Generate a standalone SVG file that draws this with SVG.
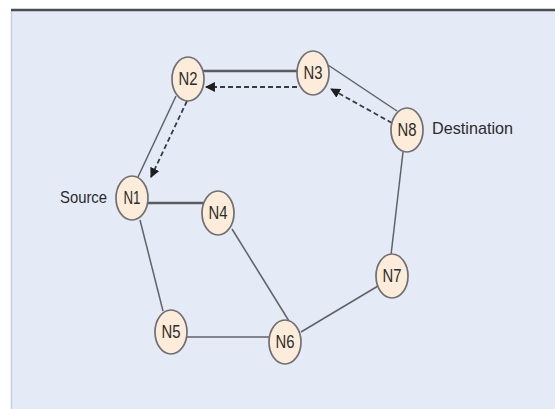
<svg xmlns="http://www.w3.org/2000/svg" width="555" height="409" viewBox="0 0 555 409">
  <defs>
    <style>
      .node ellipse { fill: #fcecd9; stroke: #707072; stroke-width: 1.7; }
      .node text, .label { font-family: "Liberation Sans", Arial, sans-serif; fill: #2c2c2c; }
      .node text { font-size: 18px; text-anchor: middle; dominant-baseline: central; }
      .label { font-size: 17px; dominant-baseline: central; }
      .link { stroke: #606266; stroke-width: 1.5; fill: none; }
      .link.heavy { stroke-width: 2.5; stroke: #5a5c60; }
      .route { stroke: #3a3c40; stroke-width: 1.8; stroke-dasharray: 5 3; fill: none; marker-end: url(#arrow); }
    </style>
    <marker id="arrow" viewBox="0 0 10 10" refX="9" refY="5" markerWidth="5.5" markerHeight="5.5" orient="auto">
      <path d="M0,0 L10,5 L0,10 Z" fill="#1e1e20"/>
    </marker>
  </defs>

  <!-- panel -->
  <rect x="0" y="0" width="555" height="409" fill="#ffffff"/>
  <rect x="11" y="11" width="544" height="398" fill="#e4eaf6"/>
  <line x1="11.5" y1="11" x2="11.5" y2="409" stroke="#c5cde0" stroke-width="1.5"/>
  <line x1="11" y1="10" x2="555" y2="10" stroke="#4a4d52" stroke-width="2.5"/>

  <!-- connectors -->
  <g id="connectors">
    <line class="link heavy" x1="203" y1="71" x2="298" y2="71"/>
    <line class="link" x1="328" y1="65" x2="397" y2="111"/>
    <line class="link" x1="176" y1="96" x2="138" y2="177"/>
    <line class="link heavy" x1="148" y1="203" x2="203" y2="203"/>
    <line class="link" x1="140" y1="220" x2="163" y2="311"/>
    <line class="link" x1="186" y1="337" x2="270" y2="337"/>
    <line class="link" x1="232" y1="229" x2="289" y2="321"/>
    <line class="link" x1="301" y1="332" x2="378" y2="286"/>
    <line class="link" x1="391" y1="255" x2="403" y2="152"/>
    <!-- route from destination back to source -->
    <line class="route" x1="392" y1="123" x2="331" y2="89"/>
    <line class="route" x1="297" y1="87" x2="206" y2="87"/>
    <line class="route" x1="187" y1="101" x2="151" y2="177"/>
  </g>

  <!-- nodes -->
  <g id="N1" class="node"><ellipse cx="132" cy="198" rx="16" ry="22"/><text x="132" y="198" textLength="17" lengthAdjust="spacingAndGlyphs">N1</text></g>
  <g id="N2" class="node"><ellipse cx="188" cy="79" rx="16" ry="22"/><text x="188" y="79" textLength="19" lengthAdjust="spacingAndGlyphs">N2</text></g>
  <g id="N3" class="node"><ellipse cx="313" cy="73" rx="16" ry="22"/><text x="313" y="73" textLength="19" lengthAdjust="spacingAndGlyphs">N3</text></g>
  <g id="N4" class="node"><ellipse cx="218" cy="213" rx="16" ry="22"/><text x="218" y="213" textLength="19" lengthAdjust="spacingAndGlyphs">N4</text></g>
  <g id="N5" class="node"><ellipse cx="171" cy="332" rx="16" ry="22"/><text x="171" y="332" textLength="19" lengthAdjust="spacingAndGlyphs">N5</text></g>
  <g id="N6" class="node"><ellipse cx="285" cy="342" rx="16" ry="22"/><text x="285" y="342" textLength="19" lengthAdjust="spacingAndGlyphs">N6</text></g>
  <g id="N7" class="node"><ellipse cx="392" cy="276" rx="16" ry="22"/><text x="392" y="276" textLength="19" lengthAdjust="spacingAndGlyphs">N7</text></g>
  <g id="N8" class="node"><ellipse cx="407" cy="130" rx="16" ry="22"/><text x="407" y="130" textLength="19" lengthAdjust="spacingAndGlyphs">N8</text></g>

  <!-- labels -->
  <text class="label" x="60" y="197" textLength="47" lengthAdjust="spacingAndGlyphs">Source</text>
  <text class="label" x="432" y="128" textLength="81" lengthAdjust="spacingAndGlyphs">Destination</text>
</svg>
